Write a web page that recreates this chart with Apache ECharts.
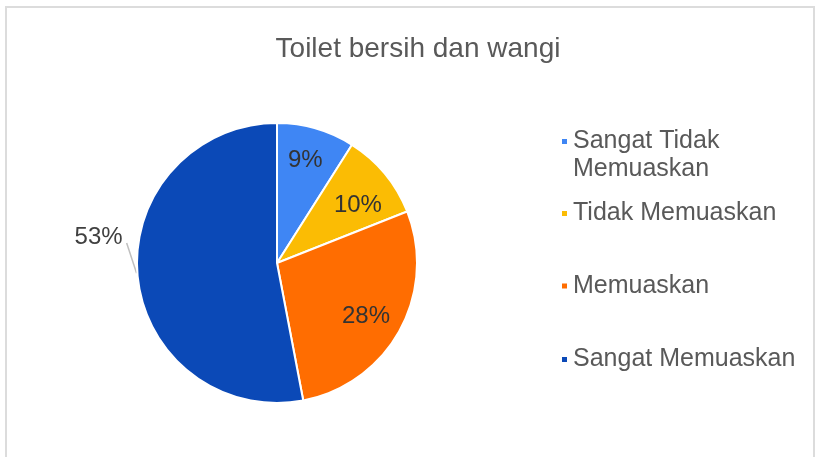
<!DOCTYPE html>
<html>
<head>
<meta charset="utf-8">
<script src="https://cdn.jsdelivr.net/npm/echarts@6/dist/echarts.min.js"></script>
<style>
html,body{margin:0;padding:0;background:#fff;}
#chart{width:817px;height:457px;}
</style>
</head>
<body>
<div id="chart"></div>
<script>
var titleText = 'Toilet bersih dan wangi';
var categories = ['Sangat Tidak Memuaskan', 'Tidak Memuaskan', 'Memuaskan', 'Sangat Memuaskan'];
var values = [9, 10, 28, 53];
var colors = ['#3f86f4', '#fbbc04', '#ff6d01', '#0b49b7'];

var FONT = '"Liberation Sans", Arial, sans-serif';

var chart = echarts.init(document.getElementById('chart'));

var pieData = categories.map(function (c, i) {
  return {
    name: c, value: values[i],
    itemStyle: { color: colors[i] },
    label: { show: i === 3 },
    labelLine: { show: i === 3 }
  };
});
var labelData = categories.map(function (c, i) {
  return {
    name: c, value: values[i],
    label: { show: i !== 3 }
  };
});

var legendTops = [99.5, 199.5, 272, 345.5];
var legends = categories.map(function (c, i) {
  return {
    data: [c],
    orient: 'vertical',
    left: 560,
    top: legendTops[i],
    padding: 0,
    itemWidth: 7,
    itemHeight: 7,
    icon: 'rect',
    selectedMode: false,
    textStyle: { fontSize: 25, color: '#595959', fontFamily: FONT, lineHeight: 28 },
    formatter: function (name) {
      return name === 'Sangat Tidak Memuaskan' ? '\nSangat Tidak\nMemuaskan' : name;
    }
  };
});

// small nudges of inside labels (dx, dy)
var innerNudge = [[-1, -2], [0, 9], [-3, 3], [0, 0]];

chart.setOption({
  animation: false,
  backgroundColor: '#ffffff',
  graphic: [{
    type: 'rect',
    shape: { x: 6, y: 7, width: 808, height: 470 },
    style: { fill: 'none', stroke: '#dcdcdc', lineWidth: 2 },
    silent: true, z: -10
  }],
  title: {
    text: titleText,
    left: 413,
    textAlign: 'center',
    top: 30,
    textStyle: { fontSize: 28, fontWeight: 'normal', color: '#595959', fontFamily: FONT }
  },
  legend: legends,
  series: [{
    type: 'pie',
    center: [277, 263],
    radius: [0, 140],
    startAngle: 90,
    clockwise: true,
    data: pieData,
    itemStyle: { borderColor: '#ffffff', borderWidth: 2 },
    label: {
      position: 'outside',
      formatter: '{c}%',
      fontSize: 24,
      color: '#404040',
      fontFamily: FONT
    },
    labelLine: { length: 8, length2: 0, lineStyle: { color: '#bfbfbf', width: 1.5 } },
    labelLayout: function (p) {
      var dx = -2, dy = -40;
      var r = p.labelRect;
      var out = { dx: dx, dy: dy };
      if (p.labelLinePoints && p.labelLinePoints.length) {
        var p0 = p.labelLinePoints[0];
        out.labelLinePoints = [
          [p0[0] - 1, p0[1] - 3],
          [r.x + r.width + dx + 4, r.y + r.height / 2 + dy + 6]
        ];
      }
      return out;
    },
    emphasis: { disabled: true }
  }, {
    type: 'pie',
    center: [277, 263],
    radius: [64, 140],
    startAngle: 90,
    clockwise: true,
    silent: true,
    data: labelData,
    itemStyle: { color: 'rgba(0,0,0,0)', borderWidth: 0 },
    label: {
      position: 'inside',
      formatter: '{c}%',
      fontSize: 24,
      color: '#333333',
      fontFamily: FONT
    },
    labelLine: { show: false },
    labelLayout: function (p) {
      var n = innerNudge[p.dataIndex] || [0, 0];
      return { dx: n[0], dy: n[1] };
    },
    emphasis: { disabled: true }
  }]
});
</script>
</body>
</html>
